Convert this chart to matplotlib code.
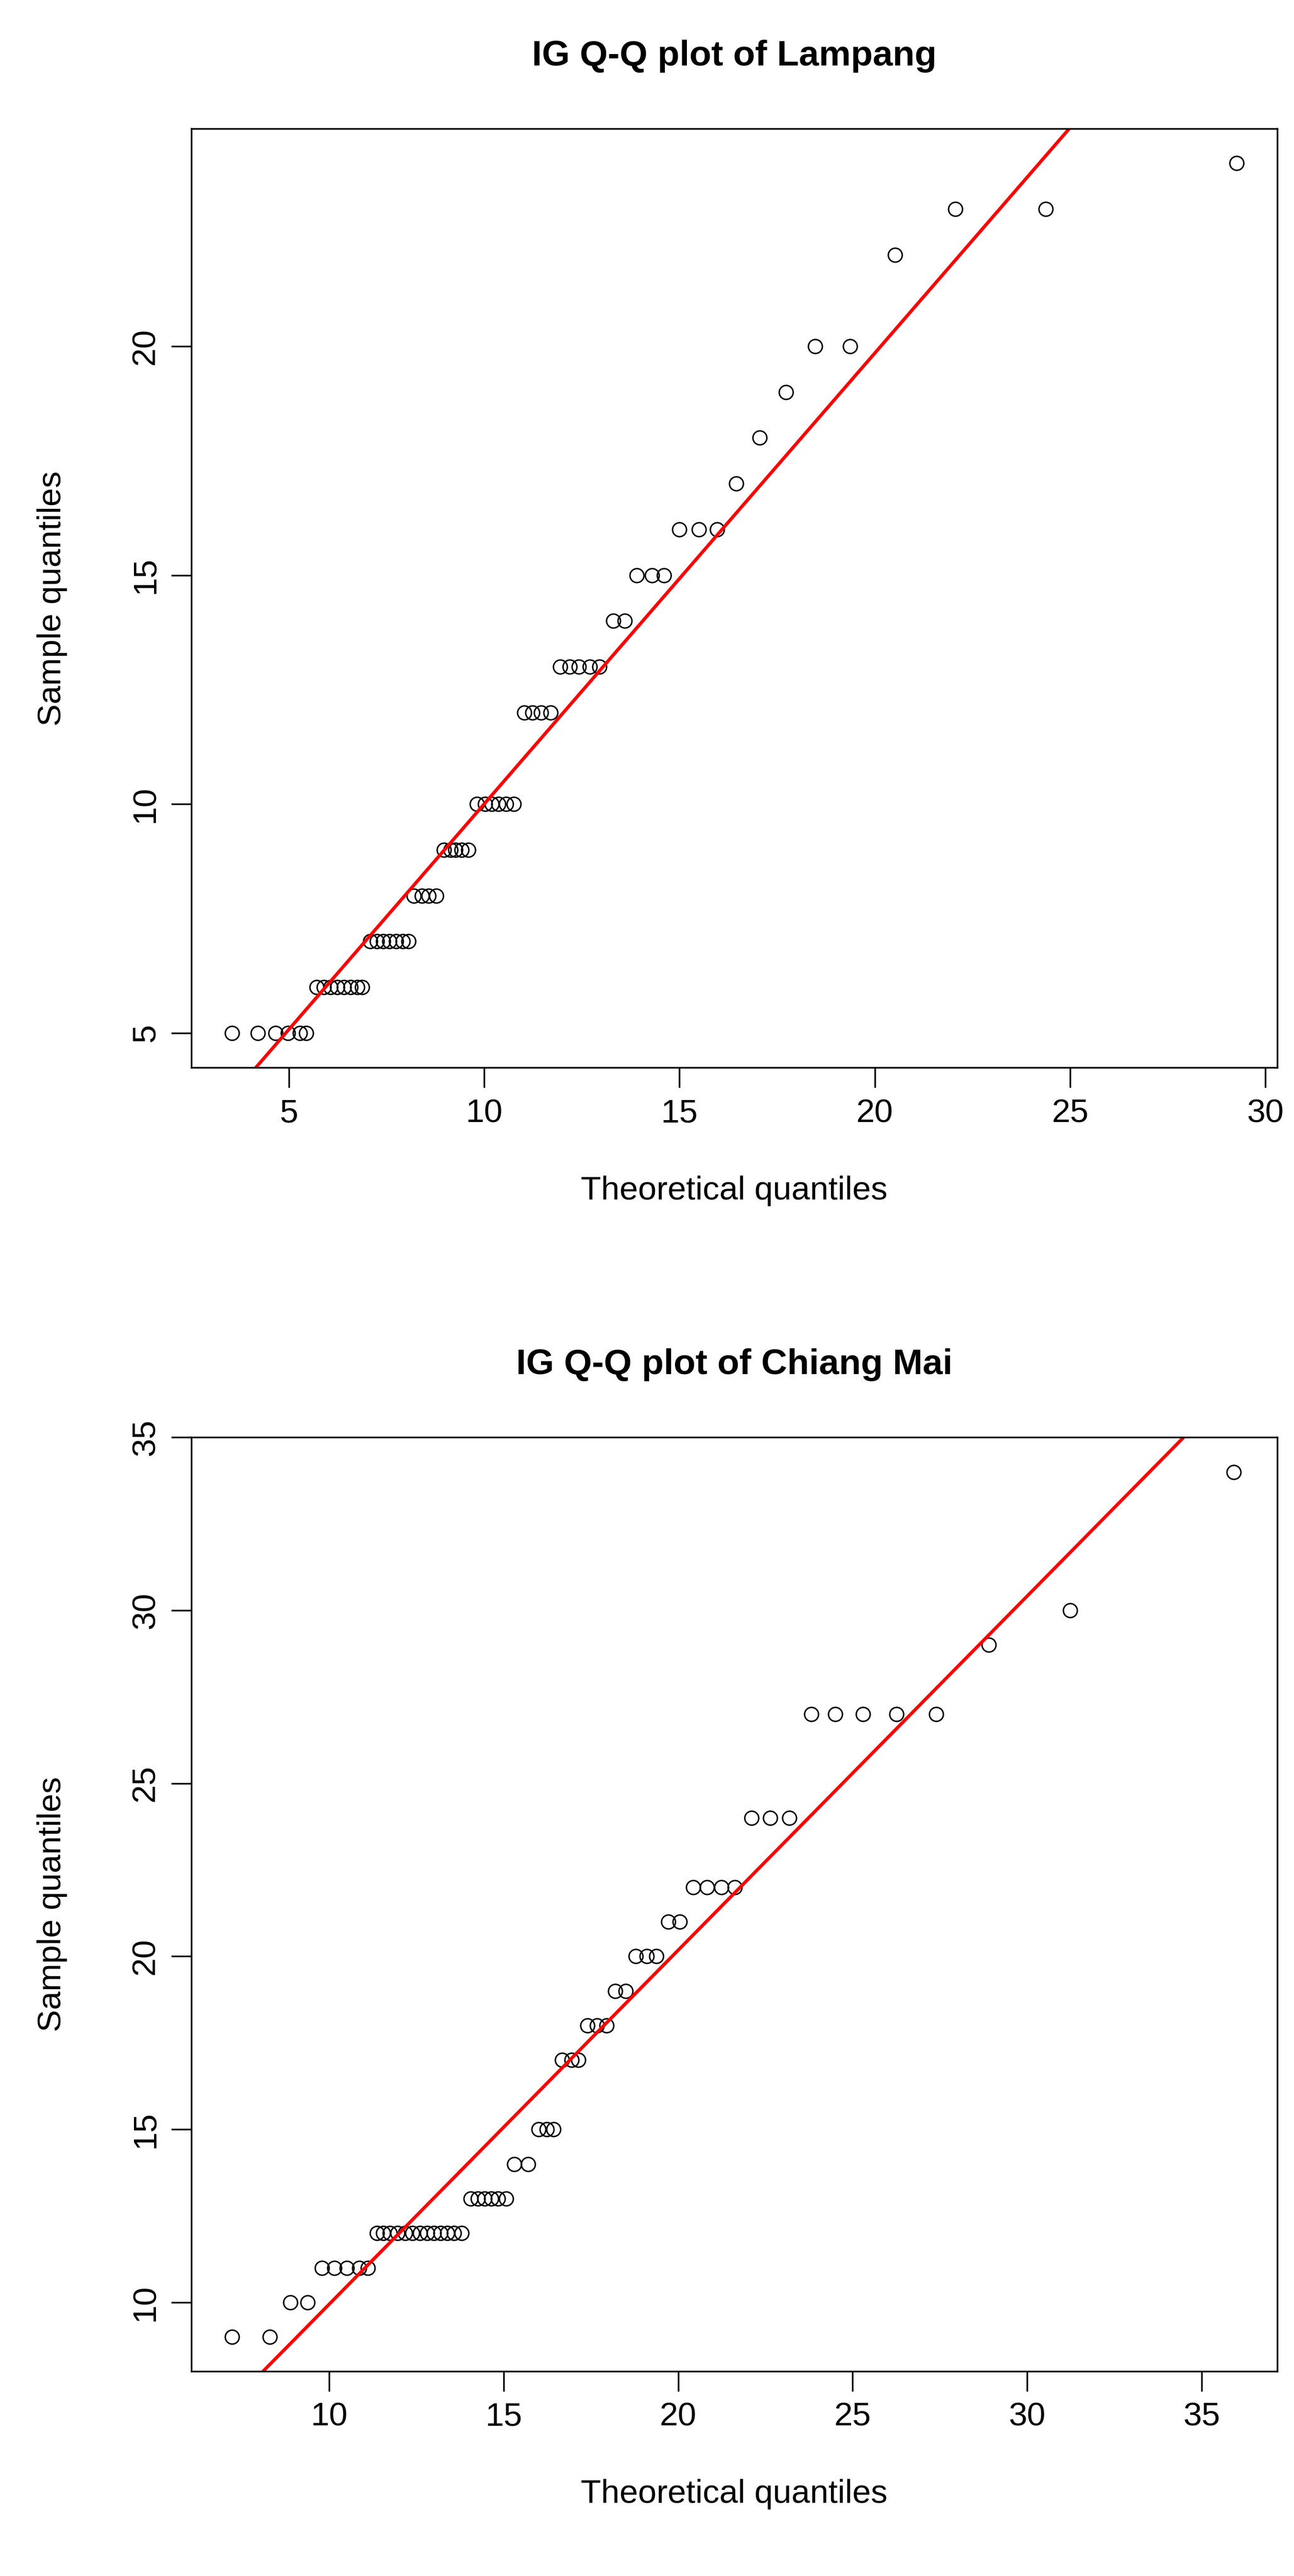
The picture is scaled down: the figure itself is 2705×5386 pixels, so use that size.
import matplotlib
matplotlib.use("Agg")
import matplotlib.pyplot as plt

plt.rcParams['font.family'] = ['Liberation Sans', 'DejaVu Sans']

# Lampang
lp_theo = [3.55, 4.21, 4.66, 4.98, 5.28, 5.45,
           5.72, 5.9, 6.07, 6.24, 6.41, 6.58, 6.75, 6.88,
           7.09, 7.26, 7.41, 7.58, 7.75, 7.92, 8.07,
           8.2, 8.41, 8.58, 8.77,
           8.97, 9.14, 9.27, 9.42, 9.6,
           9.82, 10.03, 10.2, 10.37, 10.56, 10.76,
           11.03, 11.24, 11.46, 11.7,
           11.95, 12.19, 12.42, 12.7, 12.95,
           13.3, 13.6,
           13.9, 14.3, 14.6,
           15.0, 15.5, 15.96,
           16.45, 17.05, 17.73, 18.47, 19.37, 20.52, 22.06, 24.38, 29.26]
lp_samp = [5] * 6 + [6] * 8 + [7] * 7 + [8] * 4 + [9] * 5 + [10] * 6 + [12] * 4 + [13] * 5 + \
          [14] * 2 + [15] * 3 + [16] * 3 + [17, 18, 19, 20, 20, 22, 23, 23, 24]
lp_line = (0.985, 0.15)

# Chiang Mai
cm_theo = [7.21, 8.29, 8.88, 9.38,
           9.79, 10.14, 10.5, 10.86, 11.1,
           11.36, 11.55, 11.74, 11.95, 12.17, 12.38, 12.6, 12.81, 13.0, 13.19, 13.38, 13.57, 13.79,
           14.05, 14.26, 14.45, 14.64, 14.83, 15.07,
           15.3, 15.7,
           16.0, 16.24, 16.43,
           16.67, 16.95, 17.14,
           17.4, 17.67, 17.95,
           18.2, 18.5,
           18.79, 19.1, 19.38,
           19.71, 20.05,
           20.43, 20.83, 21.24, 21.62,
           22.1, 22.64, 23.19,
           23.81, 24.5, 25.3, 26.26, 27.4,
           28.9, 31.24, 35.93]
cm_samp = [9, 9, 10, 10] + [11] * 5 + [12] * 13 + [13] * 6 + [14] * 2 + [15] * 3 + [17] * 3 + \
          [18] * 3 + [19] * 2 + [20] * 3 + [21] * 2 + [22] * 4 + [24] * 3 + [27] * 5 + [29, 30, 34]
cm_line = (1.023, -0.28)

panels = [
    ("IG Q-Q plot of Lampang", lp_theo, lp_samp, lp_line, (2.51, 30.3), (4.24, 24.75),
     [5, 10, 15, 20, 25, 30], [5, 10, 15, 20], [0.148, 0.5855, 0.839, 0.3645]),
    ("IG Q-Q plot of Chiang Mai", cm_theo, cm_samp, cm_line, (6.05, 37.17), (8.01, 35.0),
     [10, 15, 20, 25, 30, 35], [10, 15, 20, 25, 30, 35], [0.148, 0.0795, 0.839, 0.3625]),
]

fig = plt.figure(figsize=(27.05, 53.86), dpi=100)
for title, xs, ys, (m, b), xl, yl, xt, yt, rect in panels:
    ax = fig.add_axes(rect)
    ax.plot(xs, ys, 'o', mfc='none', mec='black', ms=21, mew=2.2)
    ax.plot(xl, [m * xl[0] + b, m * xl[1] + b], color='red', lw=5)
    ax.set_xlim(xl)
    ax.set_ylim(yl)
    ax.set_xticks(xt)
    ax.set_yticks(yt)
    ax.tick_params(labelsize=50, length=30, width=2.5, pad=16)
    for lab in ax.get_yticklabels():
        lab.set_rotation(90)
        lab.set_va('center')
    for s in ax.spines.values():
        s.set_linewidth(2.5)
    ax.set_title(title, fontsize=54, fontweight='bold', pad=95)
    ax.set_xlabel("Theoretical quantiles", fontsize=50, labelpad=70)
    ax.set_ylabel("Sample quantiles", fontsize=50, labelpad=95)

fig.savefig("out.png", dpi=100)
